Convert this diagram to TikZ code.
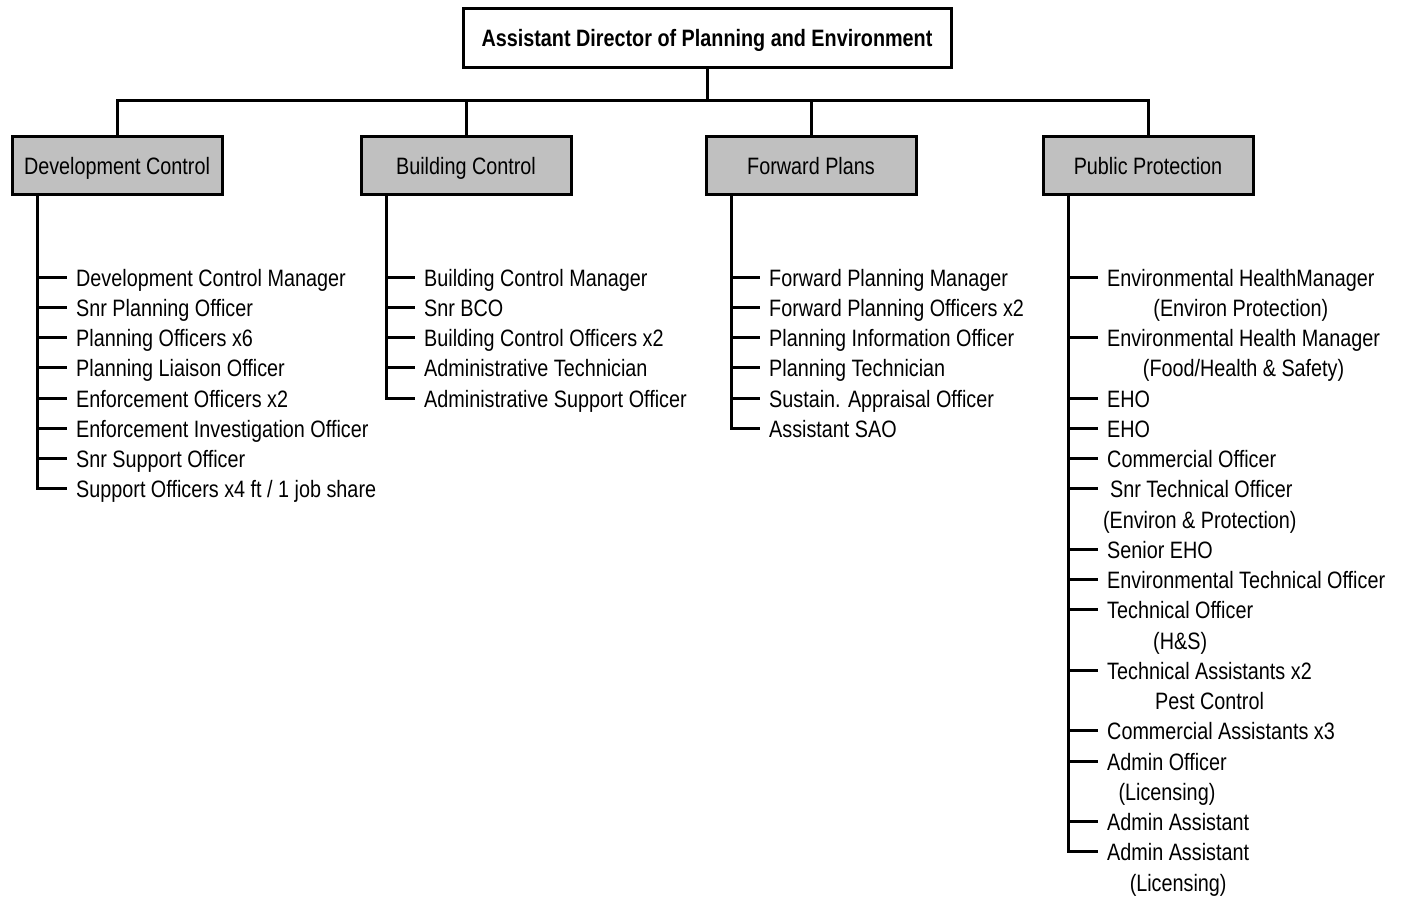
\documentclass[tikz,border=0pt]{standalone}
\usepackage{fontspec}
\setmainfont{Liberation Sans}[FakeStretch=0.835]
\definecolor{deptgray}{RGB}{192,192,192}
\begin{document}
\begin{tikzpicture}[x=1pt,y=-1pt,
  font=\fontsize{23.7}{28}\selectfont,
  wire/.style={line width=3pt},
  headbox/.style={draw,line width=3pt,fill=white,minimum width=488pt,minimum height=59pt,inner sep=0pt,
    text height=17pt,text depth=0pt,font=\fontsize{23.7}{28}\selectfont\bfseries},
  deptbox/.style={draw,line width=3pt,fill=deptgray,minimum width=210pt,minimum height=58pt,inner sep=0pt,
    text height=18pt,text depth=0pt},
  post/.style={anchor=west,inner xsep=9pt,inner ysep=0pt,text height=18pt,text depth=0pt},
  note/.style={anchor=base,inner sep=0pt}]
\useasboundingbox (0,0) rectangle (1403,897);

% head of the service and the four sections
\node[headbox] (head) at (707,37.5) {Assistant Director of Planning and Environment};
\node[deptbox] (dc) at (117,165) {Development Control};
\node[deptbox] (bc) at (466,165) {Building Control};
\node[deptbox] (fp) at (811,165) {Forward Plans};
\node[deptbox] (pp) at (1148,165) {Public Protection};

\coordinate (bus) at (707,100);
\draw[wire] (head.south) -- (bus);
\draw[wire] (dc.north) -- (dc.north |- bus) -- (pp.north |- bus) -- (pp.north);
\draw[wire] (bc.north) -- (bc.north |- bus);
\draw[wire] (fp.north) -- (fp.north |- bus);

% trunk lines under each section
\coordinate (dct) at ([xshift=-80pt]dc.south);
\coordinate (bct) at ([xshift=-80pt]bc.south);
\coordinate (fpt) at ([xshift=-80pt]fp.south);
\coordinate (ppt) at ([xshift=-80pt]pp.south);

% Development Control posts
\foreach \t [count=\i from 0] in {Development Control Manager, Snr Planning Officer,
  Planning Officers x6, Planning Liaison Officer, Enforcement Officers x2,
  Enforcement Investigation Officer, Snr Support Officer, Support Officers x4 ft / 1 job share}
  \node[post] (dc\i) at (67,277+30.25*\i) {\t};
\draw[wire] (dct) |- (dc7.west);
\foreach \i in {0,...,6} \draw[wire] (dct |- dc\i.west) -- (dc\i.west);

% Building Control posts
\foreach \t [count=\i from 0] in {Building Control Manager, Snr BCO,
  Building Control Officers x2, Administrative Technician, Administrative Support Officer}
  \node[post] (bc\i) at (415,277+30.25*\i) {\t};
\draw[wire] (bct) |- (bc4.west);
\foreach \i in {0,...,3} \draw[wire] (bct |- bc\i.west) -- (bc\i.west);

% Forward Plans posts
\foreach \t [count=\i from 0] in {Forward Planning Manager, Forward Planning Officers x2,
  Planning Information Officer, Planning Technician, Sustain. Appraisal Officer, Assistant SAO}
  \node[post] (fp\i) at (760,277+30.25*\i) {\t};
\draw[wire] (fpt) |- (fp5.west);
\foreach \i in {0,...,4} \draw[wire] (fpt |- fp\i.west) -- (fp\i.west);

% Public Protection posts (row number / title)
\foreach \r/\t in {0/Environmental HealthManager, 2/Environmental Health Manager,
  4/EHO, 5/EHO, 6/Commercial Officer, 7/\hspace*{3pt}Snr Technical Officer, 9/Senior EHO,
  10/Environmental Technical Officer, 11/Technical Officer, 13/Technical Assistants x2,
  15/Commercial Assistants x3, 16/Admin Officer, 18/Admin Assistant, 19/Admin Assistant}
  \node[post] (pp\r) at (1098,277+30.25*\r) {\t};
\draw[wire] (ppt) |- (pp19.west);
\foreach \r in {0,2,4,5,6,7,9,10,11,13,15,16,18}
  \draw[wire] (ppt |- pp\r.west) -- (pp\r.west);

% second lines, centred under their posts
\foreach \r/\t in {0/{(Environ Protection)}, 2/{(Food/Health \& Safety)},
  7/{(Environ \& Protection)}, 11/{(H\&S)}, 13/{Pest Control}, 16/{(Licensing)}, 19/{(Licensing)}}
  \node[note] (ppc\r) at ([yshift=-30.25pt]pp\r.base) {\t};
\end{tikzpicture}
\end{document}
